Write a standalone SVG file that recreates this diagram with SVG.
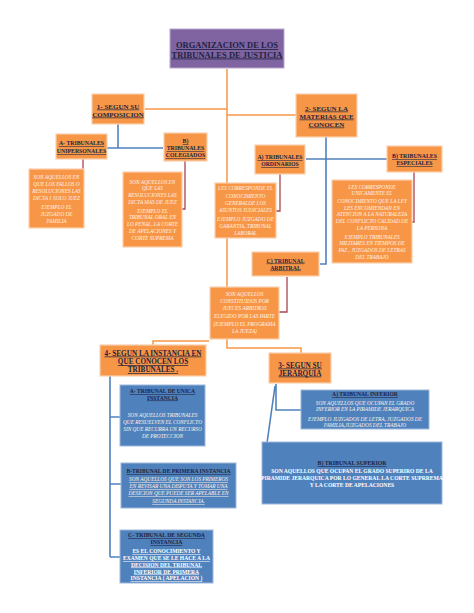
<svg xmlns="http://www.w3.org/2000/svg" width="474" height="613" viewBox="0 0 474 613">
<style>
.bg{fill:#ffffff}
.or{fill:#F79646;stroke:#FBD0AE;stroke-width:1.2}
.pu{fill:#8064A2;stroke:#B9A8CF;stroke-width:1}
.bl{fill:#4F81BD;stroke:#9DB7DA;stroke-width:1}
.co{fill:none;stroke:#F79646;stroke-width:1.5}
.cb{fill:none;stroke:#4F81BD;stroke-width:1.6}
.cr{fill:none;stroke:#A94452;stroke-width:1.3}
text{font-family:"Liberation Serif","Times New Roman",serif;text-anchor:middle}
.h{font-weight:bold;fill:#1E2340;text-decoration:underline}
.d{font-style:italic;fill:#FFF3E6}
.w{font-weight:bold;fill:#FFFFFF}
</style>
<rect class="bg" x="0" y="0" width="474" height="613"/>

<g id="connectors">
  <path class="co" d="M227,69 V290"/>
  <path class="co" d="M145,109 H227"/>
  <path class="co" d="M227,115 H296"/>
  <path class="co" d="M209,341 H153 V346"/>
  <path class="co" d="M227,339 V348 H301 V353"/>
  <path class="cb" d="M118,124 V148"/>
  <path class="cb" d="M107,148 H163"/>
  <path class="cb" d="M326,137 V264 H320"/>
  <path class="cb" d="M306,159 H387"/>
  <path class="cr" d="M83,158 V169"/>
  <path class="cr" d="M185,161 V209 H182"/>
  <path class="cr" d="M280,174 V211 H276"/>
  <path class="cr" d="M414,172 V222 H412"/>
  <path class="cr" d="M287,277 V312 H279"/>
  <path class="cb" d="M110,376 V557 M110,417 H120 M110,484 H122 M110,557 H120"/>
  <path class="cb" d="M276,384 V410 H301 M275,386 L267,443"/>
</g>

<g id="title">
  <rect class="pu" x="170" y="29" width="114" height="39"/>
  <text class="h" font-size="8.5" x="227" y="48">ORGANIZACION DE LOS</text>
  <text class="h" font-size="8.5" x="227" y="57.5">TRIBUNALES DE JUSTICIA</text>
</g>

<g id="n1">
  <rect class="or" x="92" y="94" width="52" height="30"/>
  <text class="h" font-size="7" x="118" y="108.5">1- SEGUN SU</text>
  <text class="h" font-size="7" x="118" y="116.5">COMPOSICION</text>
</g>

<g id="n2">
  <rect class="or" x="296" y="94" width="61" height="43"/>
  <text class="h" font-size="7" x="326.5" y="110.5">2- SEGUN LA</text>
  <text class="h" font-size="7" x="326.5" y="118.5">MATERIAS QUE</text>
  <text class="h" font-size="7" x="326.5" y="126.5">CONOCEN</text>
</g>

<g id="n1a">
  <rect class="or" x="56" y="134" width="51" height="25"/>
  <text class="h" font-size="5.8" x="81.5" y="145">A- TRIBUNALES</text>
  <text class="h" font-size="5.8" x="81.5" y="153">UNIPERSONALES</text>
</g>

<g id="n1b">
  <rect class="or" x="164" y="133" width="43" height="28"/>
  <text class="h" font-size="5.8" x="185.5" y="143">B)</text>
  <text class="h" font-size="5.8" x="185.5" y="150">TRIBUNALES</text>
  <text class="h" font-size="5.8" x="185.5" y="157">COLEGIADOS</text>
</g>

<g id="d1a">
  <rect class="or" x="29" y="169" width="55" height="59"/>
  <text class="d" font-size="5.3" x="56.5" y="179">SON AQUELLOS EN</text>
  <text class="d" font-size="5.3" x="56.5" y="186">QUE LOS FALLOS O</text>
  <text class="d" font-size="5.3" x="56.5" y="193">RESOLUCIONES LAS</text>
  <text class="d" font-size="5.3" x="56.5" y="200">DICTA 1 SOLO JUEZ</text>
  <text class="d" font-size="5.3" x="56.5" y="209">EJEMPLO EL</text>
  <text class="d" font-size="5.3" x="56.5" y="216">JUZGADO DE</text>
  <text class="d" font-size="5.3" x="56.5" y="223">FAMILIA</text>
</g>

<g id="d1b">
  <rect class="or" x="123" y="172" width="59" height="75"/>
  <text class="d" font-size="5.3" x="152.5" y="183.5">SON AQUELLOS EN</text>
  <text class="d" font-size="5.3" x="152.5" y="190">QUE LAS</text>
  <text class="d" font-size="5.3" x="152.5" y="197">RESOLUCIONES LAS</text>
  <text class="d" font-size="5.3" x="152.5" y="203.5">DICTA MAS DE JUEZ</text>
  <text class="d" font-size="5.3" x="152.5" y="212.5">EJEMPLO EL</text>
  <text class="d" font-size="5.3" x="152.5" y="219">TRIBUNAL ORAL EN</text>
  <text class="d" font-size="5.3" x="152.5" y="226">LO PENAL, LA CORTE</text>
  <text class="d" font-size="5.3" x="152.5" y="233">DE APELACIONES Y</text>
  <text class="d" font-size="5.3" x="152.5" y="240">CORTE SUPREMA</text>
</g>

<g id="n2a">
  <rect class="or" x="255" y="145" width="50" height="29"/>
  <text class="h" font-size="5.8" x="280" y="159">A) TRIBUNALES</text>
  <text class="h" font-size="5.8" x="280" y="166">ORDINARIOS</text>
</g>

<g id="n2b">
  <rect class="or" x="387" y="146" width="55" height="26"/>
  <text class="h" font-size="5.8" x="414.5" y="158">B) TRIBUNALES</text>
  <text class="h" font-size="5.8" x="414.5" y="165">ESPECIALES</text>
</g>

<g id="d2a">
  <rect class="or" x="215" y="183" width="61" height="55"/>
  <text class="d" font-size="5.3" x="245.5" y="189.5">LES CORRESPONDE EL</text>
  <text class="d" font-size="5.3" x="245.5" y="197.5">CONOCIMIENTO</text>
  <text class="d" font-size="5.3" x="245.5" y="204.5">GENERALDE LOS</text>
  <text class="d" font-size="5.3" x="245.5" y="211.5">ASUNTOS JUDICIALES</text>
  <text class="d" font-size="5.3" x="245.5" y="220.5">EJEMPLO JUZGADO DE</text>
  <text class="d" font-size="5.3" x="245.5" y="227.5">GARANTIA, TRIBUNAL</text>
  <text class="d" font-size="5.3" x="245.5" y="234.5">LABORAL</text>
</g>

<g id="d2b">
  <rect class="or" x="332" y="180" width="80" height="83"/>
  <text class="d" font-size="5.3" x="372" y="188.5">LES CORRESPONDE</text>
  <text class="d" font-size="5.3" x="372" y="195">UNICAMENTE EL</text>
  <text class="d" font-size="5.3" x="372" y="202.5">CONOCIMIENTO QUE LA LEY</text>
  <text class="d" font-size="5.3" x="372" y="209.5">LES ENCOMIENDAN EN</text>
  <text class="d" font-size="5.3" x="372" y="216">ATENCION A LA NATURALEZA</text>
  <text class="d" font-size="5.3" x="372" y="223">DEL CONFLICTO CALIDAD DE</text>
  <text class="d" font-size="5.3" x="372" y="229.5">LA PERSONA</text>
  <text class="d" font-size="5.3" x="372" y="238.5">EJEMPLO TRIBUNALES</text>
  <text class="d" font-size="5.3" x="372" y="245">MILITARES EN TIEMPOS DE</text>
  <text class="d" font-size="5.3" x="372" y="252">PAZ , JUZGADOS DE LETRAS</text>
  <text class="d" font-size="5.3" x="372" y="258.5">DEL TRABAJO</text>
</g>

<g id="n2c">
  <rect class="or" x="252" y="252" width="67" height="24"/>
  <text class="h" font-size="5.8" x="285.5" y="262.5">C) TRIBUNAL</text>
  <text class="h" font-size="5.8" x="285.5" y="269.5">ARBITRAL</text>
</g>

<g id="d2c">
  <rect class="or" x="210" y="287" width="69" height="52"/>
  <text class="d" font-size="5.3" x="244.5" y="296">SON AQUELLOS</text>
  <text class="d" font-size="5.3" x="244.5" y="303">CONSTITUIDOS POR</text>
  <text class="d" font-size="5.3" x="244.5" y="310">JUECES ARBITROS</text>
  <text class="d" font-size="5.3" x="244.5" y="317.5">ELEGIDO POR LAS PARTE</text>
  <text class="d" font-size="5.3" x="244.5" y="326">(EJEMPLO EL PROGRAMA</text>
  <text class="d" font-size="5.3" x="244.5" y="332.5">LA JUEZA)</text>
</g>

<g id="n4">
  <rect class="or" x="100" y="345" width="106" height="31"/>
  <text class="h" font-size="7.2" x="153" y="355.5">4- SEGUN LA INSTANCIA EN</text>
  <text class="h" font-size="7.2" x="153" y="364">QUE CONOCEN LOS</text>
  <text class="h" font-size="7.2" x="153" y="372">TRIBUNALES .</text>
</g>

<g id="n3">
  <rect class="or" x="269" y="353" width="62" height="30"/>
  <text class="h" font-size="7.2" x="300" y="367.5">3-  SEGUN SU</text>
  <text class="h" font-size="7.2" x="300" y="375.5">JERARQUIA</text>
</g>

<g id="n4a">
  <rect class="bl" x="120" y="385" width="85" height="61"/>
  <text class="h" font-size="5.6" x="162.5" y="393">A- TRIBUNAL DE UNICA</text>
  <text class="h" font-size="5.6" x="162.5" y="399.5">INSTANCIA</text>
  <text class="d" font-size="5.3" x="162.5" y="417">SON AQUELLOS TRIBUNALES</text>
  <text class="d" font-size="5.3" x="162.5" y="424">QUE RESUELVEN EL CONFLICTO</text>
  <text class="d" font-size="5.3" x="162.5" y="431">SIN QUE RECURRA UN RECURSO</text>
  <text class="d" font-size="5.3" x="162.5" y="438">DE PROTECCION</text>
</g>

<g id="n4b">
  <rect class="bl" x="121" y="463" width="115" height="45"/>
  <text class="h" font-size="5.6" x="178.5" y="473">B-TRIBUNAL DE PRIMERA INSTANCIA</text>
  <text class="d" font-size="5.3" x="178.5" y="481" text-decoration="underline">SON AQUELLOS  QUE SON LOS PRIMEROS</text>
  <text class="d" font-size="5.3" x="178.5" y="488" text-decoration="underline">EN REVISAR UNA DISPUTA  Y TOMAR UNA</text>
  <text class="d" font-size="5.3" x="178.5" y="495" text-decoration="underline">DESICION QUE PUEDE SER APELABLE  EN</text>
  <text class="d" font-size="5.3" x="178.5" y="503" text-decoration="underline">SEGUNDA INSTANCIA.</text>
</g>

<g id="n4c">
  <rect class="bl" x="120" y="530" width="93" height="53"/>
  <text class="h" font-size="5.8" x="166.5" y="537">C- TRIBUNAL DE SEGUNDA</text>
  <text class="h" font-size="5.8" x="166.5" y="544">INSTANCIA</text>
  <text class="w" font-size="5.6" x="166.5" y="553" text-decoration="underline">ES EL CONOCIMIENTO Y</text>
  <text class="w" font-size="5.6" x="166.5" y="560" text-decoration="underline">EXAMEN QUE SE LE HACE A LA</text>
  <text class="w" font-size="5.6" x="166.5" y="566.5" text-decoration="underline">DECISION DEL TRIBUNAL</text>
  <text class="w" font-size="5.6" x="166.5" y="573.5" text-decoration="underline">INFERIOR DE PRIMERA</text>
  <text class="w" font-size="5.6" x="166.5" y="580" text-decoration="underline">INSTANCIA  ( APELACION )</text>
</g>

<g id="n3a">
  <rect class="bl" x="301" y="390" width="128" height="39"/>
  <text class="h" font-size="5.6" x="365" y="396">A)  TRIBUNAL INFERIOR</text>
  <text class="d" font-size="5.3" x="365" y="405">SON AQUELLOS QUE OCUPAN EL GRADO</text>
  <text class="d" font-size="5.3" x="365" y="411">INFERIOR EN LA PIRAMIDE JERARQUICA</text>
  <text class="d" font-size="5.3" x="365" y="421">EJEMPLO JUZGADOS DE LETRA, JUZGADOS DE</text>
  <text class="d" font-size="5.3" x="365" y="427">FAMILIA,JUZGADOS DEL TRABAJO</text>
</g>

<g id="n3b">
  <rect class="bl" x="262" y="442" width="180" height="62"/>
  <text class="h" font-size="5.8" x="352" y="465">B) TRIBUNAL SUPERIOR</text>
  <text class="w" font-size="5.6" x="352" y="473">SON AQUELLOS QUE OCUPAN EL GRADO SUPERIRO DE LA</text>
  <text class="w" font-size="5.6" x="352" y="480">PIRAMIDE JERARQUICA POR LO GENERAL LA CORTE SUPRREMA</text>
  <text class="w" font-size="5.6" x="352" y="487">Y LA CORTE DE APELACIONES</text>
</g>
</svg>
